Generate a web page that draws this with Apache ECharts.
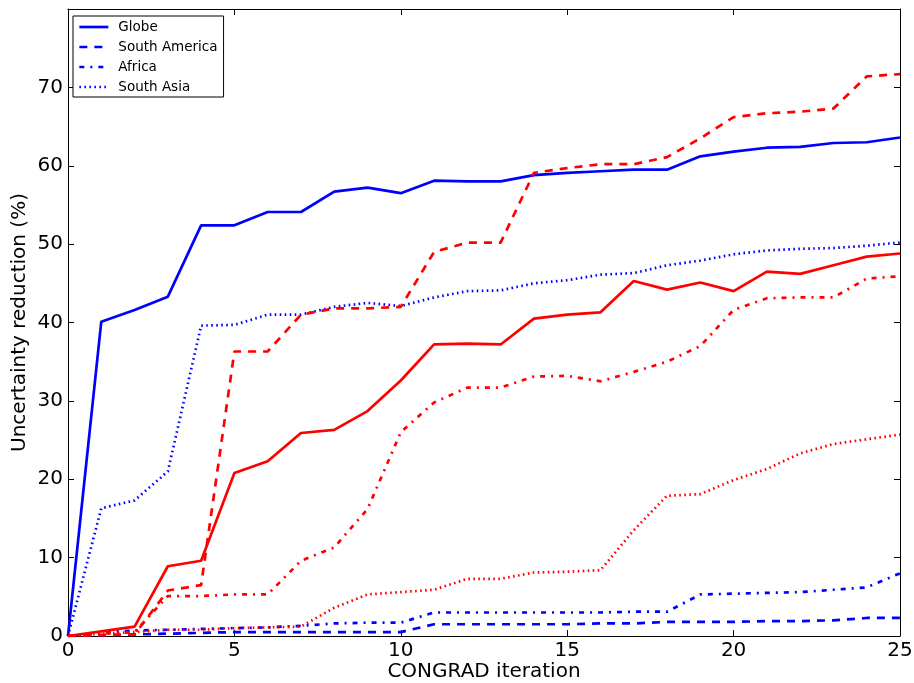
<!DOCTYPE html>
<html>
<head>
<meta charset="utf-8">
<script src="https://cdn.jsdelivr.net/npm/echarts@6/dist/echarts.min.js"></script>
<style>
html,body{margin:0;padding:0;background:#fff;}
#chart{width:914px;height:683px;}
</style>
</head>
<body>
<div id="chart"></div>
<script>
// CONGRAD iterations
const iterations = [0,1,2,3,4,5,6,7,8,9,10,11,12,13,14,15,16,17,18,19,20,21,22,23,24,25];

// Blue series (in legend)
const globeBlue = [0,40.1,41.6,43.3,52.4,52.4,54.1,54.1,56.7,57.2,56.5,58.1,58.0,58.0,58.8,59.1,59.3,59.5,59.5,61.2,61.8,62.3,62.4,62.9,63.0,63.6];
const southAmericaBlue = [0,0.1,0.2,0.3,0.4,0.5,0.5,0.5,0.5,0.5,0.5,1.5,1.5,1.5,1.5,1.5,1.6,1.6,1.8,1.8,1.8,1.9,1.9,2.0,2.3,2.3];
const africaBlue = [0,0.5,0.7,0.8,0.9,1.0,1.1,1.3,1.6,1.7,1.7,3.0,3.0,3.0,3.0,3.0,3.0,3.1,3.1,5.3,5.4,5.5,5.6,5.9,6.2,8.0];
const southAsiaBlue = [0,16.3,17.3,21.0,39.6,39.7,41.0,41.0,42.0,42.5,42.1,43.2,44.0,44.1,45.0,45.4,46.1,46.3,47.3,47.9,48.7,49.2,49.4,49.5,49.8,50.2];

// Red series (not in legend)
const globeRed = [0,0.6,1.2,8.9,9.6,20.8,22.3,25.9,26.3,28.7,32.6,37.2,37.3,37.2,40.5,41.0,41.3,45.3,44.2,45.1,44.0,46.5,46.2,47.3,48.4,48.8];
const southAmericaRed = [0,0.1,0.2,5.8,6.5,36.3,36.3,41.0,41.8,41.8,42.0,49.0,50.2,50.2,59.1,59.7,60.2,60.2,61.1,63.5,66.2,66.7,66.9,67.3,71.4,71.7];
const africaRed = [0,0.3,0.5,5.1,5.1,5.3,5.3,9.6,11.3,16.2,26.0,29.8,31.7,31.7,33.1,33.2,32.5,33.7,35.0,37.0,41.6,43.1,43.2,43.2,45.6,45.9];
const southAsiaRed = [0,0.3,0.5,0.8,0.8,1.0,1.1,1.2,3.6,5.3,5.6,5.9,7.3,7.3,8.1,8.2,8.4,13.5,17.9,18.1,19.9,21.3,23.3,24.5,25.1,25.7];

const legendNames = ['Globe','South America','Africa','South Asia'];
const xTicks = [0,5,10,15,20,25];
const yTicks = [0,10,20,30,40,50,60,70];

const dashStyles = {
  solid: 'solid',
  dashed: [8, 7],
  dashdot: [5, 6, 2, 6],
  dotted: [1.6, 3.4]
};

function pairs(vals){ return iterations.map((x,i)=>[x, vals[i]]); }

function mk(name, vals, color, style){
  return {
    name: name,
    type: 'line',
    data: pairs(vals),
    symbol: 'none',
    showSymbol: false,
    animation: false,
    lineStyle: { color: color, width: 2.7, type: dashStyles[style], cap: 'butt' },
    itemStyle: { color: color },
    emphasis: { disabled: true },
    z: 3
  };
}

const chart = echarts.init(document.getElementById('chart'), null, {renderer:'canvas'});
const font = 'DejaVu Sans';
const axisCommon = {
  axisLine: { show: true, onZero: false, lineStyle: { color: '#000', width: 1 } },
  axisTick: { show: true, inside: true, length: 6, lineStyle: { color: '#000', width: 1 } },
  splitLine: { show: false },
  minorTick: { show: false }
};

chart.setOption({
  backgroundColor: '#fff',
  animation: false,
  textStyle: { fontFamily: font },
  grid: { left: 68, right: 14, top: 9, bottom: 47, containLabel: false, outerBoundsMode: 'none' },
  legend: {
    data: legendNames,
    orient: 'vertical',
    left: 73,
    top: 16,
    padding: [4, 6, 3, 5],
    itemWidth: 29,
    itemHeight: 14,
    itemGap: 6,
    backgroundColor: '#fff',
    borderColor: '#000',
    borderWidth: 1,
    borderRadius: 0,
    selectedMode: false,
    itemStyle: { color: 'rgba(0,0,0,0)', opacity: 0, borderWidth: 0 },
    lineStyle: { width: 2.7 },
    textStyle: { fontFamily: font, fontSize: 13.5, color: '#000', padding: [0,0,0,5] }
  },
  xAxis: [
    Object.assign({}, axisCommon, {
      type: 'value', min: 0, max: 25, interval: 5, position: 'bottom',
      name: 'CONGRAD iteration', nameLocation: 'middle', nameGap: 26,
      nameMoveOverlap: false,
      nameTextStyle: { fontFamily: font, fontSize: 20, color: '#000' },
      axisLabel: { fontFamily: font, fontSize: 20, color: '#000', margin: 5,
        formatter: v => xTicks.includes(v) ? String(v) : '' }
    }),
    Object.assign({}, axisCommon, {
      type: 'value', min: 0, max: 25, interval: 5, position: 'top',
      axisLabel: { show: false }
    })
  ],
  yAxis: [
    Object.assign({}, axisCommon, {
      type: 'value', min: 0, max: 80, interval: 10, position: 'left',
      name: 'Uncertainty reduction (%)', nameLocation: 'middle', nameGap: 38,
      nameMoveOverlap: false,
      nameTextStyle: { fontFamily: font, fontSize: 20, color: '#000' },
      axisLabel: { fontFamily: font, fontSize: 20, color: '#000', margin: 5,
        formatter: v => yTicks.includes(v) ? String(v) : '' }
    }),
    Object.assign({}, axisCommon, {
      type: 'value', min: 0, max: 80, interval: 10, position: 'right',
      axisLabel: { show: false }
    })
  ],
  series: [
    mk('Globe', globeBlue, '#0000ff', 'solid'),
    mk('South America', southAmericaBlue, '#0000ff', 'dashed'),
    mk('Africa', africaBlue, '#0000ff', 'dashdot'),
    mk('South Asia', southAsiaBlue, '#0000ff', 'dotted'),
    mk('Globe (red)', globeRed, '#ff0000', 'solid'),
    mk('South America (red)', southAmericaRed, '#ff0000', 'dashed'),
    mk('Africa (red)', africaRed, '#ff0000', 'dashdot'),
    mk('South Asia (red)', southAsiaRed, '#ff0000', 'dotted')
  ]
});
</script>
</body>
</html>
